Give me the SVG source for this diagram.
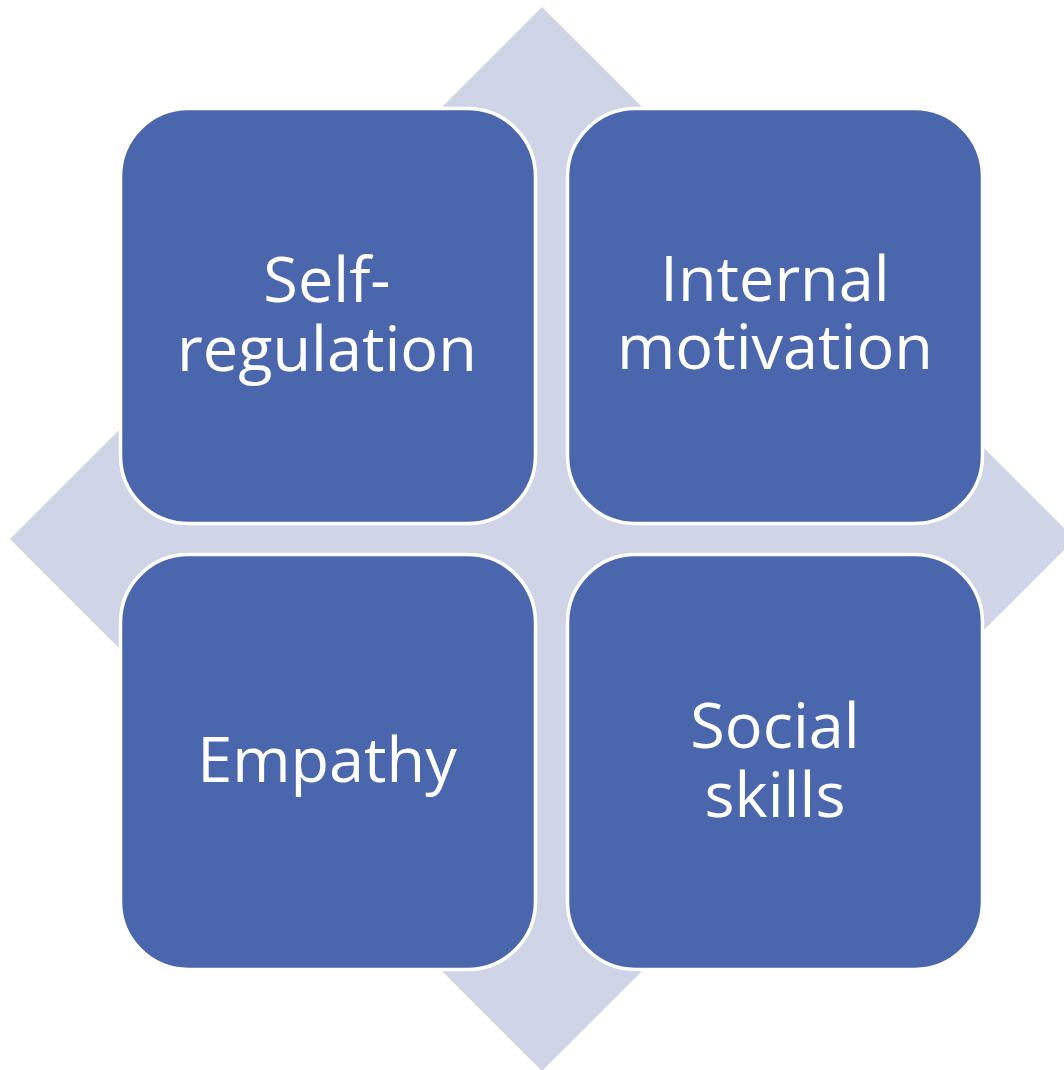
<svg xmlns="http://www.w3.org/2000/svg" width="1064" height="1070" viewBox="0 0 1064 1070">
<style>
.box{fill:#4A67AD;stroke:#FFFFFF;stroke-width:3.5}
.lbl{fill:#FFFFFF;font-family:"Open Sans","Noto Sans",sans-serif;font-size:63px;text-anchor:middle}
</style>
<rect width="1064" height="1070" fill="#FFFFFF"/>
<polygon id="diamond" points="542,7 1075,539 542,1071 10,539" fill="#CFD4E6"/>
<g id="connectors"></g>
<g id="node-self-regulation">
<rect class="box" x="120.5" y="108.5" width="415" height="415" rx="68"/>
<text class="lbl" x="327" y="302">Self-</text>
<text class="lbl" x="327" y="371">regulation</text>
</g>
<g id="node-internal-motivation">
<rect class="box" x="567.5" y="108.5" width="415" height="415" rx="68"/>
<text class="lbl" x="775" y="301">Internal</text>
<text class="lbl" x="775" y="369">motivation</text>
</g>
<g id="node-empathy">
<rect class="box" x="120.5" y="554.5" width="415" height="415" rx="68"/>
<text class="lbl" x="327" y="782">Empathy</text>
</g>
<g id="node-social-skills">
<rect class="box" x="567.5" y="554.5" width="415" height="415" rx="68"/>
<text class="lbl" x="775" y="748">Social</text>
<text class="lbl" x="775" y="817">skills</text>
</g>
</svg>
